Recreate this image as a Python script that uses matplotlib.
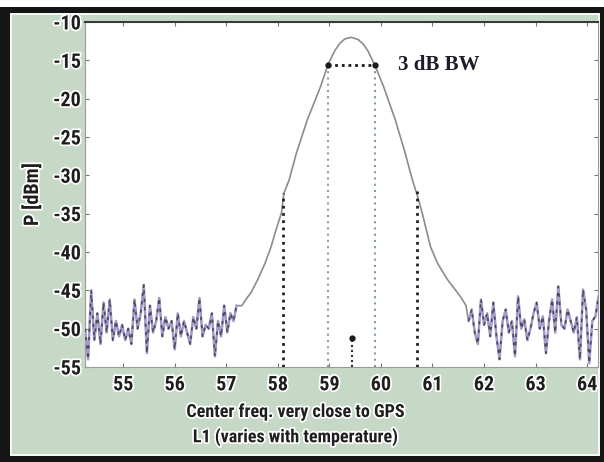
import numpy as np
import matplotlib
matplotlib.use("Agg")
import matplotlib.pyplot as plt
from matplotlib.patches import Rectangle
import matplotlib.patheffects as pe
from matplotlib import font_manager

plt.rcParams['axes.unicode_minus'] = False

# left noise floor, step 0.06 MHz from 54.26
noise_left = [-50, -54, -45, -51.5, -48, -52, -46.6, -50.5, -46.2, -51.5,
              -49, -51, -49.5, -51.5, -50, -52, -46.2, -50, -48, -44.3,
              -53.2, -47, -50.5, -49, -46, -51, -48.5, -50, -49, -52.7,
              -48, -51, -49, -50.5, -52, -48.5, -50, -46, -51, -49.5,
              -50, -48, -53.6, -49, -51, -47, -50.5, -48, -49, -47]
left_start = 54.26

# main lobe
lobe_f = [57.30, 57.40, 57.48, 57.61, 57.75, 57.87, 57.97, 58.07, 58.12, 58.22,
          58.36, 58.57, 58.83, 58.97, 59.10, 59.20, 59.30, 59.43, 59.56, 59.66,
          59.75, 59.88, 60.05, 60.28, 60.47, 60.61, 60.70, 60.80, 60.96, 61.10,
          61.29, 61.45, 61.55, 61.65]
lobe_p = [-47.0, -46.0, -45.3, -43.6, -41.5, -39.3, -37.0, -34.9, -32.3, -30.6,
          -27.1, -22.8, -18.4, -15.6, -13.8, -12.8, -12.2, -12.0, -12.3, -12.9,
          -13.8, -15.6, -18.4, -22.8, -27.1, -30.6, -32.5, -34.9, -39.3, -41.5,
          -43.6, -45.0, -45.9, -47.0]

# right noise floor, step 0.06 MHz from 61.70
noise_right = [-49, -47.5, -50.5, -52, -46.2, -49.5, -48, -51, -46.6, -51,
               -54, -49, -47.5, -50.5, -49, -53.6, -45.8, -50, -48.8, -51.5,
               -50, -48, -46.6, -50, -48.4, -53.2, -49, -46.2, -50.5, -44.5,
               -49.5, -50, -47.5, -49, -50.5, -48.5, -54, -44.9, -47.5, -54.5,
               -49, -48.4, -45.8]
right_start = 61.70
step = 0.06

bw_lo, bw_hi, bw_level = 58.97, 59.88, -15.6
outer_lo, outer_hi = 58.11, 60.70
outer_level_lo, outer_level_hi = -32.3, -32.0
center_f, center_top = 59.44, -51.2

xticks = [55, 56, 57, 58, 59, 60, 61, 62, 63, 64]
yticks = [-10, -15, -20, -25, -30, -35, -40, -45, -50, -55]

fl = left_start + step * np.arange(len(noise_left))
fr = right_start + step * np.arange(len(noise_right))

# pick a narrow sans if one is installed
have = {f.name for f in font_manager.fontManager.ttflist}
narrow = [n for n in ['Roboto Condensed', 'DejaVu Sans Condensed', 'Liberation Sans Narrow',
                      'Open Sans Condensed', 'Lato'] if n in have]
tick_font = narrow[:1] + ['DejaVu Sans']

fig = plt.figure(figsize=(6.04, 4.62), dpi=100)
fig.patch.set_facecolor('white')
green = '#c6d9c6'
fig.add_artist(Rectangle((0, 0), 1, 455 / 462, transform=fig.transFigure,
                         facecolor='#151515', edgecolor='none', zorder=-10))
fig.add_artist(Rectangle((10 / 604, 6 / 462), 590 / 604, 443 / 462, transform=fig.transFigure,
                         facecolor='#f4f8f4', edgecolor='none', zorder=-9))
fig.add_artist(Rectangle((12 / 604, 8 / 462), 586 / 604, 439 / 462, transform=fig.transFigure,
                         facecolor=green, edgecolor='none', zorder=-8))

ax = fig.add_axes([85 / 604, 1 - 367 / 462, 513 / 604, 345 / 462])
ax.set_facecolor('white')

# traces
ax.plot(np.r_[fl, lobe_f, fr], np.r_[noise_left, lobe_p, noise_right],
        color='#8c8c8c', lw=1.2, zorder=2)
for f, p in [(fl, noise_left), (fr, noise_right)]:
    ax.plot(f, p, color='#a39bd0', lw=1.8, zorder=3)
    ax.plot(f, p, color='#4a4a55', lw=1.2, ls=(0, (2, 3)), zorder=4)

# marker lines
ax.plot([outer_lo, outer_lo], [-55, outer_level_lo], color='#202020', lw=2.0, ls=(0, (1, 1.6)), zorder=5)
ax.plot([outer_hi, outer_hi], [-55, outer_level_hi], color='#202020', lw=2.0, ls=(0, (1, 1.6)), zorder=5)
ax.plot([bw_lo, bw_lo], [-55, bw_level], color='#9a9a9a', lw=1.5, ls=(0, (1, 2)), zorder=5)
ax.plot([bw_hi, bw_hi], [-55, bw_level], color='#7f9f8f', lw=1.5, ls=(0, (1, 2)), zorder=5)
ax.plot([bw_lo, bw_hi], [bw_level, bw_level], color='#1a1a1a', lw=2.0, ls=(0, (1, 1.4)), zorder=6)
ax.plot([bw_lo, bw_hi], [bw_level, bw_level], ls='none', marker='o', ms=3.5, color='#1a1a1a', zorder=6)
ax.plot([center_f, center_f], [-55, center_top], color='#303030', lw=1.5, ls=(0, (1, 1.4)), zorder=5)
ax.plot([center_f], [center_top], ls='none', marker='o', ms=3.5, color='#1a1a1a', zorder=6)

ax.text(60.34, bw_level, '3 dB BW', family=['Liberation Serif', 'DejaVu Serif'],
        fontsize=15, fontweight='bold', color='#1c1c2c', va='center', ha='left')

ax.set_xlim(54.26, 64.21)
ax.set_ylim(-55, -10)
ax.set_xticks(xticks)
ax.set_yticks(yticks)

halo = [pe.withStroke(linewidth=2.5, foreground='white')]
for lab in ax.get_xticklabels() + ax.get_yticklabels():
    lab.set_family(tick_font)
    lab.set_fontsize(14.5)
    lab.set_fontweight('bold')
    lab.set_color('#1e1e1e')
    lab.set_path_effects(halo)
ax.tick_params(axis='both', direction='in', length=3, color='#777777', top=True, right=True)
ax.tick_params(axis='y', pad=3)
ax.tick_params(axis='x', pad=6)

for s in ['left', 'bottom', 'right']:
    ax.spines[s].set_color('#9a9a9a')
ax.spines['top'].set_color('#3a3a3a')
ax.spines['top'].set_linewidth(1.5)

ax.set_ylabel('P [dBm]', family=tick_font, fontsize=14.5, fontweight='bold',
              color='#1e1e1e', path_effects=halo, labelpad=8)
fig.text(295 / 604, 1 - 412 / 462, 'Center freq. very close to GPS', family=tick_font,
         fontsize=13, fontweight='bold', color='#1e1e1e', ha='center', va='center', path_effects=halo)
fig.text(295 / 604, 1 - 437 / 462, 'L1 (varies with temperature)', family=tick_font,
         fontsize=13, fontweight='bold', color='#1e1e1e', ha='center', va='center', path_effects=halo)

fig.savefig('out.png', dpi=100, facecolor=fig.get_facecolor())
